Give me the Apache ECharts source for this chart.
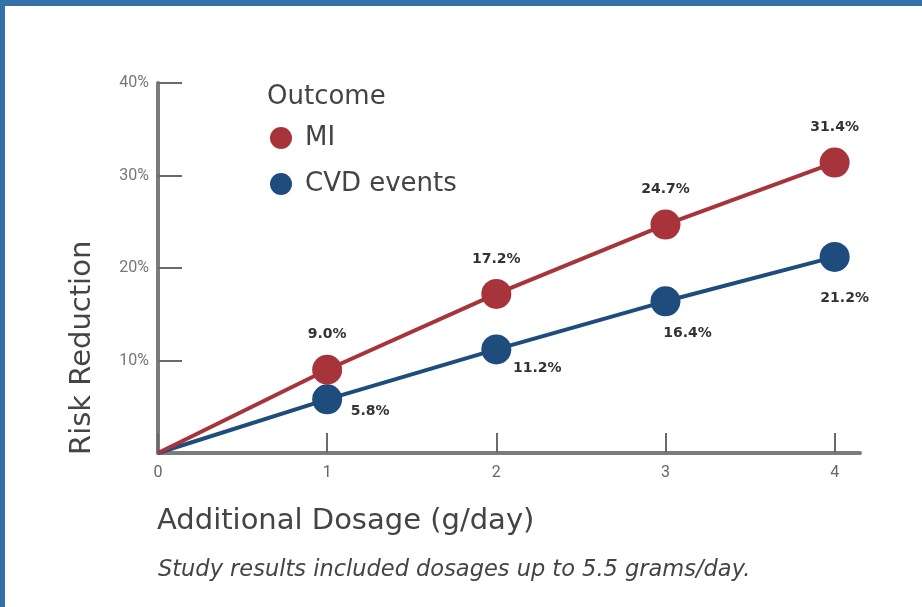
<!DOCTYPE html>
<html>
<head>
<meta charset="utf-8">
<script src="https://cdn.jsdelivr.net/npm/echarts@6/dist/echarts.min.js"></script>
<style>
html, body { margin: 0; padding: 0; background: #fff; }
#chart { width: 922px; height: 607px; }
</style>
</head>
<body>
<div id="chart"></div>
<script>
// data
const dosage = [0, 1, 2, 3, 4];
const miValues = [0, 9.0, 17.2, 24.7, 31.4];
const cvdValues = [0, 5.8, 11.2, 16.4, 21.2];
const seriesNames = ["MI", "CVD events"];
const yTickValues = [10, 20, 30, 40];

// where the CVD labels sit relative to their dot
const cvdLabelOffsets = [null, [43, 12], [41, 19], [22, 32], [10, 41]];

const colors = ["#a8343b", "#1d4c7d"];
const wideFont = "'DejaVu Sans', Verdana, sans-serif";
const tickFont = "Roboto, 'Noto Sans', sans-serif";

function buildData(values, labelFor) {
    return dosage.map(function(x, i) {
        let item = { value: [x, values[i]] };
        if (x === 0) {
            item.symbol = "none";
            item.label = { show: false };
        } else if (labelFor) {
            item.label = labelFor(i);
        }
        return item;
    });
}

function pct(p) {
    return p.value[1].toFixed(1) + "%";
}

const chart = echarts.init(document.getElementById("chart"));

const option = {
    animation: false,
    color: colors,
    textStyle: { fontFamily: wideFont },
    legend: {
        orient: "vertical",
        left: 270,
        top: 125,
        padding: 0,
        icon: "circle",
        itemWidth: 22,
        itemHeight: 22,
        itemGap: 20,
        textStyle: { fontFamily: wideFont, fontSize: 26, color: "#444", lineHeight: 22, padding: [0, 0, 0, 8] },
        data: seriesNames
    },
    grid: { left: 158, right: 62, top: 83, bottom: 154, containLabel: false },
    xAxis: {
        type: "value",
        min: 0,
        max: 4.15,
        interval: 1,
        splitLine: { show: false },
        axisLine: { lineStyle: { color: "#7b7b7b", width: 4 } },
        axisTick: { show: true, inside: true, length: 20, lineStyle: { color: "#6a6a6a", width: 2 } },
        axisLabel: {
            showMaxLabel: false,
            margin: 12,
            fontSize: 16,
            color: "#666",
            fontFamily: tickFont
        }
    },
    yAxis: {
        type: "value",
        min: 0,
        max: 40,
        interval: 10,
        splitLine: { show: false },
        axisLine: { show: true, lineStyle: { color: "#7b7b7b", width: 4 } },
        axisTick: { show: true, inside: true, length: 24, lineStyle: { color: "#6a6a6a", width: 2 } },
        axisLabel: {
            showMinLabel: false,
            margin: 9,
            fontSize: 16,
            color: "#777",
            fontFamily: tickFont,
            formatter: function(v) {
                return yTickValues.indexOf(v) >= 0 ? v + "%" : "";
            }
        }
    },
    graphic: [
        { type: "rect", shape: { x: 0, y: 0, width: 922, height: 6 }, style: { fill: "#3571a9" }, z: 100 },
        { type: "rect", shape: { x: 0, y: 0, width: 5, height: 607 }, style: { fill: "#3571a9" }, z: 100 },
        {
            type: "text",
            x: 267,
            y: 97,
            style: { text: "Outcome", fontFamily: wideFont, fontSize: 26, fill: "#444", verticalAlign: "middle" }
        },
        {
            type: "text",
            x: 82,
            y: 455,
            rotation: Math.PI / 2,
            style: { text: "Risk Reduction", fontFamily: wideFont, fontSize: 29, fill: "#444", verticalAlign: "middle", align: "left" }
        },
        {
            type: "text",
            x: 157,
            y: 521,
            style: { text: "Additional Dosage (g/day)", fontFamily: wideFont, fontSize: 29, fill: "#444", verticalAlign: "middle" }
        },
        {
            type: "text",
            x: 158,
            y: 570,
            style: { text: "Study results included dosages up to 5.5 grams/day.", fontFamily: wideFont, fontSize: 22.5, fontStyle: "italic", fill: "#444", verticalAlign: "middle" }
        }
    ],
    series: [
        {
            name: seriesNames[0],
            type: "line",
            symbol: "circle",
            symbolSize: 30,
            lineStyle: { width: 4 },
            z: 3,
            label: {
                show: true,
                position: "top",
                distance: 13,
                fontFamily: wideFont,
                fontSize: 14,
                fontWeight: "bold",
                color: "#333",
                formatter: pct
            },
            data: buildData(miValues)
        },
        {
            name: seriesNames[1],
            type: "line",
            symbol: "circle",
            symbolSize: 30,
            lineStyle: { width: 4 },
            z: 2,
            label: {
                show: true,
                position: "inside",
                fontFamily: wideFont,
                fontSize: 14,
                fontWeight: "bold",
                color: "#333",
                formatter: pct
            },
            data: buildData(cvdValues, function(i) {
                return { offset: cvdLabelOffsets[i] };
            })
        }
    ]
};

chart.setOption(option);
</script>
</body>
</html>
